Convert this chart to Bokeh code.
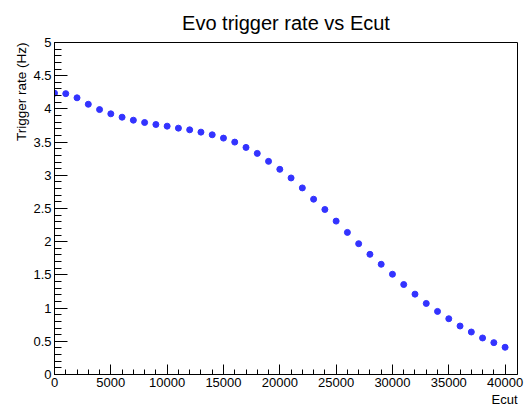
from bokeh.plotting import figure
from bokeh.models import Range1d, FixedTicker, CustomJSTickFormatter, Title, ColumnDataSource
from bokeh.embed import file_html
from bokeh.resources import INLINE

# ---- data ----
ecut = [0, 1000, 2000, 3000, 4000, 5000, 6000, 7000, 8000, 9000,
        10000, 11000, 12000, 13000, 14000, 15000, 16000, 17000, 18000, 19000,
        20000, 21000, 22000, 23000, 24000, 25000, 26000, 27000, 28000, 29000,
        30000, 31000, 32000, 33000, 34000, 35000, 36000, 37000, 38000, 39000, 40000]
rate = [4.237, 4.23, 4.167, 4.07, 3.99, 3.926, 3.875, 3.83, 3.795, 3.765,
        3.74, 3.71, 3.685, 3.65, 3.61, 3.56, 3.50, 3.42, 3.33, 3.21,
        3.09, 2.96, 2.81, 2.64, 2.485, 2.31, 2.14, 1.97, 1.81, 1.66,
        1.51, 1.355, 1.21, 1.07, 0.95, 0.84, 0.73, 0.64, 0.55, 0.48, 0.41]
x_major = [0, 5000, 10000, 15000, 20000, 25000, 30000, 35000, 40000]
x_minor = list(range(0, 40001, 1000))
y_major = [0, 0.5, 1, 1.5, 2, 2.5, 3, 3.5, 4, 4.5, 5]
y_minor = [i / 10 for i in range(0, 51)]
title_text = "Evo trigger rate vs Ecut"
x_title = "Ecut"
y_title = "Trigger rate (Hz)"

FONT = "Liberation Sans"

p = figure(width=526, height=406, output_backend="svg", toolbar_location=None,
           x_range=Range1d(0, 41100), y_range=Range1d(0, 5),
           min_border_left=54, min_border_right=9, min_border_top=42, min_border_bottom=32)
p.background_fill_color = "white"
p.border_fill_color = "white"
p.outline_line_color = "black"
p.outline_line_width = 1
p.xgrid.visible = False
p.ygrid.visible = False

p.title.text = title_text
p.title.align = "center"
p.title.text_font = FONT
p.title.text_font_size = "20px"
p.title.text_font_style = "normal"
p.title.text_color = "black"
p.title.standoff = 17

fmt = CustomJSTickFormatter(code="return tick.toString();")

xa = p.xaxis[0]
xa.ticker = FixedTicker(ticks=x_major, minor_ticks=x_minor)
xa.formatter = fmt
xa.major_tick_in = 10
xa.major_tick_out = 0
xa.minor_tick_in = 5
xa.minor_tick_out = 0
xa.major_label_standoff = 3
xa.major_label_text_font = FONT
xa.major_label_text_font_size = "13px"
xa.major_label_text_color = "black"
xa.axis_line_color = "black"
xa.major_tick_line_color = "black"
xa.minor_tick_line_color = "black"

ya = p.yaxis[0]
ya.ticker = FixedTicker(ticks=y_major, minor_ticks=y_minor)
ya.formatter = fmt
ya.major_tick_in = 13
ya.major_tick_out = 0
ya.minor_tick_in = 7
ya.minor_tick_out = 0
ya.major_label_standoff = 3
ya.major_label_text_font = FONT
ya.major_label_text_font_size = "13px"
ya.major_label_text_color = "black"
ya.axis_line_color = "black"
ya.major_tick_line_color = "black"
ya.minor_tick_line_color = "black"

p.add_layout(Title(text=y_title, align="right", text_font=FONT, text_font_size="13.5px",
                   text_font_style="normal", text_color="black", standoff=3, offset=0), "left")
p.add_layout(Title(text=x_title, align="right", text_font=FONT, text_font_size="13px",
                   text_font_style="normal", text_color="black", standoff=0, offset=0), "below")

src = ColumnDataSource(data=dict(x=ecut, y=rate))
p.scatter("x", "y", source=src, size=6, fill_color="#3333ff", line_color="#3333ff")

open("out.html", "w").write(file_html(p, INLINE))
